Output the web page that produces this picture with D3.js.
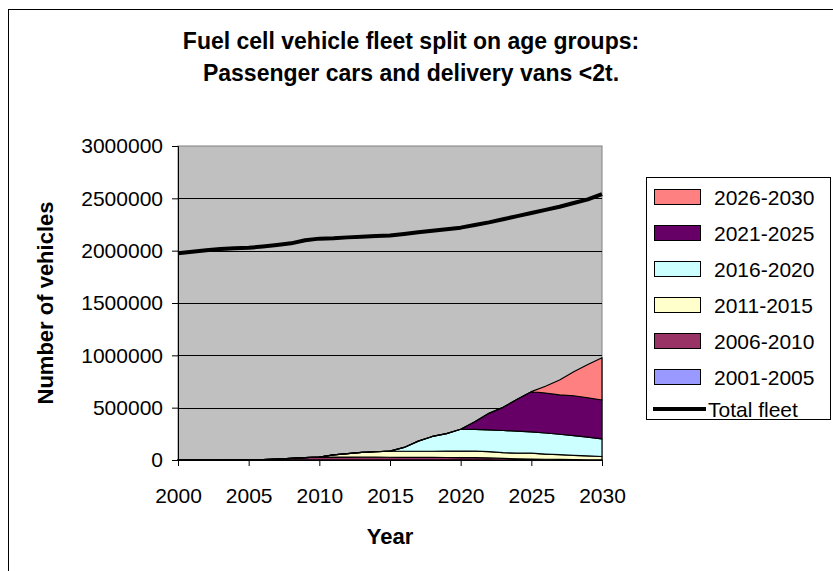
<!DOCTYPE html>
<html>
<head>
<meta charset="utf-8">
<script src="https://cdn.jsdelivr.net/npm/d3@7"></script>
<style>
  html, body { margin: 0; padding: 0; background: #fff; }
  svg { display: block; font-family: Arial, "Liberation Sans", sans-serif; }
</style>
</head>
<body>
<svg id="chart" width="833" height="571"></svg>
<script>
// Years on the horizontal axis
const years = d3.range(2000, 2031);

// Fuel cell vehicles in the fleet, by first-registration period (one value per year 2000..2030)
const fleet2001_2005 = [0, 50, 100, 200, 400, 600, 600, 600, 600, 600, 600, 600, 600, 600, 600, 600,
  550, 500, 450, 400, 350, 300, 250, 200, 150, 100, 50, 0, 0, 0, 0];
const fleet2006_2010 = [0, 0, 0, 0, 0, 0, 2500, 7500, 15000, 22000, 28000, 27500, 27000, 26500, 26000, 25500,
  25000, 24500, 24000, 23500, 23000, 22000, 20000, 15000, 11000, 9000, 7000, 5500, 4000, 2500, 1500];
const fleet2011_2015 = [0, 0, 0, 0, 0, 0, 0, 0, 0, 0, 0, 20000, 34000, 45000, 52000, 58000,
  58000, 58500, 59000, 60000, 62000, 62000, 60000, 55000, 54000, 56000, 50000, 45000, 40000, 36000, 32000];
const fleet2016_2020 = [0, 0, 0, 0, 0, 0, 0, 0, 0, 0, 0, 0, 0, 0, 0, 0,
  36500, 96500, 141500, 168000, 208500, 207700, 207700, 211800, 210900, 202900, 201000, 195500, 188000, 179500, 168500];
const fleet2021_2025 = [0, 0, 0, 0, 0, 0, 0, 0, 0, 0, 0, 0, 0, 0, 0, 0,
  0, 0, 0, 0, 0, 74000, 158000, 221000, 304000, 385000, 382000, 376000, 382000, 377000, 371000];
const fleet2026_2030 = [0, 0, 0, 0, 0, 0, 0, 0, 0, 0, 0, 0, 0, 0, 0, 0,
  0, 0, 0, 0, 0, 0, 0, 0, 0, 0, 65000, 142000, 230000, 317000, 404000];

// Total passenger car and delivery van fleet
const totalFleet = [1975000, 1990000, 2003000, 2015000, 2022000, 2027000, 2040000, 2055000, 2070000, 2100000,
  2115000, 2118000, 2127000, 2133000, 2140000, 2145000, 2160000, 2175000, 2190000, 2205000,
  2220000, 2245000, 2270000, 2300000, 2330000, 2360000, 2390000, 2420000, 2455000, 2490000, 2540000];

const groupNames = ["2001-2005", "2006-2010", "2011-2015", "2016-2020", "2021-2025", "2026-2030"];
const groupValues = [fleet2001_2005, fleet2006_2010, fleet2011_2015, fleet2016_2020, fleet2021_2025, fleet2026_2030];
const groupColors = ["#9999FF", "#993366", "#FFFFCC", "#CCFFFF", "#660066", "#FF8080"];

const yTicks = [0, 500000, 1000000, 1500000, 2000000, 2500000, 3000000];
const xTicks = [2000, 2005, 2010, 2015, 2020, 2025, 2030];

const titleLines = ["Fuel cell vehicle fleet split on age groups:", "Passenger cars and delivery vans <2t."];

const FONT = "Arial, 'Liberation Sans', sans-serif";
const svg = d3.select("#chart");

// Chart area frame
svg.append("rect")
  .attr("x", 8.5).attr("y", 9.5)
  .attr("width", 840).attr("height", 580)
  .attr("fill", "#fff").attr("stroke", "#000").attr("stroke-width", 1);

// Title
svg.append("g").selectAll("text").data(titleLines).join("text")
  .attr("x", 411).attr("y", (d, i) => 49 + i * 32)
  .attr("text-anchor", "middle")
  .attr("font-size", 23).attr("font-weight", "bold")
  .text(d => d);

const plot = { left: 178, right: 602, top: 146, bottom: 460 };

const x = d3.scaleLinear().domain([2000, 2030]).range([plot.left, plot.right]);
const y = d3.scaleLinear().domain([0, 3000000]).range([plot.bottom, plot.top]);

// Plot background
svg.append("rect")
  .attr("x", plot.left).attr("y", plot.top)
  .attr("width", plot.right - plot.left).attr("height", plot.bottom - plot.top)
  .attr("fill", "#C0C0C0").attr("stroke", "#808080").attr("stroke-width", 1);

// Horizontal gridlines
svg.append("g").selectAll("line").data(yTicks.slice(1, -1)).join("line")
  .attr("x1", plot.left).attr("x2", plot.right)
  .attr("y1", d => Math.round(y(d)) + 0.5).attr("y2", d => Math.round(y(d)) + 0.5)
  .attr("stroke", "#000").attr("stroke-width", 1);

// Stacked areas by age group
const rows = years.map((yr, i) => {
  const row = { year: yr };
  groupNames.forEach((g, k) => { row[g] = groupValues[k][i]; });
  return row;
});
const stacked = d3.stack().keys(groupNames)(rows);

const area = d3.area()
  .x(d => x(d.data.year))
  .y0(d => y(d[0]))
  .y1(d => y(d[1]));

svg.append("g").selectAll("path").data(stacked).join("path")
  .attr("d", area)
  .attr("fill", (d, i) => groupColors[i])
  .attr("stroke", "#000").attr("stroke-width", 1.2)
  .attr("stroke-linejoin", "round");

// Total fleet line
const line = d3.line()
  .x((d, i) => x(years[i]))
  .y(d => y(d));

svg.append("path")
  .datum(totalFleet)
  .attr("d", line)
  .attr("fill", "none").attr("stroke", "#000").attr("stroke-width", 4)
  .attr("stroke-linejoin", "round");

// Axes
const yAxis = d3.axisLeft(y).tickValues(yTicks).tickSize(6).tickPadding(9)
  .tickFormat(d3.format("d"));
const gy = svg.append("g").attr("transform", `translate(${plot.left},0)`).call(yAxis);
gy.selectAll("text").attr("font-size", 21).attr("fill", "#000").attr("font-family", FONT);
gy.selectAll("line, path").attr("stroke", "#000");

const xAxis = d3.axisBottom(x).tickValues(xTicks).tickSize(6).tickPadding(22)
  .tickFormat(d3.format("d"));
const gx = svg.append("g").attr("transform", `translate(0,${plot.bottom})`).call(xAxis);
gx.selectAll("text").attr("font-size", 21).attr("fill", "#000").attr("font-family", FONT);
gx.selectAll("line, path").attr("stroke", "#000");

// Axis titles
svg.append("text")
  .attr("x", 390).attr("y", 544)
  .attr("text-anchor", "middle")
  .attr("font-size", 22).attr("font-weight", "bold")
  .text("Year");

svg.append("text")
  .attr("transform", "translate(53,303) rotate(-90)")
  .attr("text-anchor", "middle")
  .attr("font-size", 22).attr("font-weight", "bold")
  .text("Number of vehicles");

// Legend
const legend = svg.append("g");
legend.append("rect")
  .attr("x", 646.5).attr("y", 177.5).attr("width", 184).attr("height", 242)
  .attr("fill", "#fff").attr("stroke", "#000").attr("stroke-width", 1);

const legendItems = groupNames.map((g, k) => ({ name: g, color: groupColors[k] })).reverse();
const rowsG = legend.selectAll("g.item").data(legendItems).join("g")
  .attr("class", "item")
  .attr("transform", (d, i) => `translate(0,${197 + i * 36})`);
rowsG.append("rect")
  .attr("x", 654.5).attr("y", -7.5).attr("width", 46).attr("height", 15)
  .attr("fill", d => d.color).attr("stroke", "#000").attr("stroke-width", 1);
rowsG.append("text")
  .attr("x", 714).attr("y", 8)
  .attr("font-size", 21)
  .text(d => d.name);

const totalRow = legend.append("g").attr("transform", `translate(0,${409})`);
totalRow.append("line")
  .attr("x1", 653).attr("x2", 706).attr("y1", 0).attr("y2", 0)
  .attr("stroke", "#000").attr("stroke-width", 4);
totalRow.append("text")
  .attr("x", 708).attr("y", 8)
  .attr("font-size", 21)
  .text("Total fleet");
</script>
</body>
</html>
